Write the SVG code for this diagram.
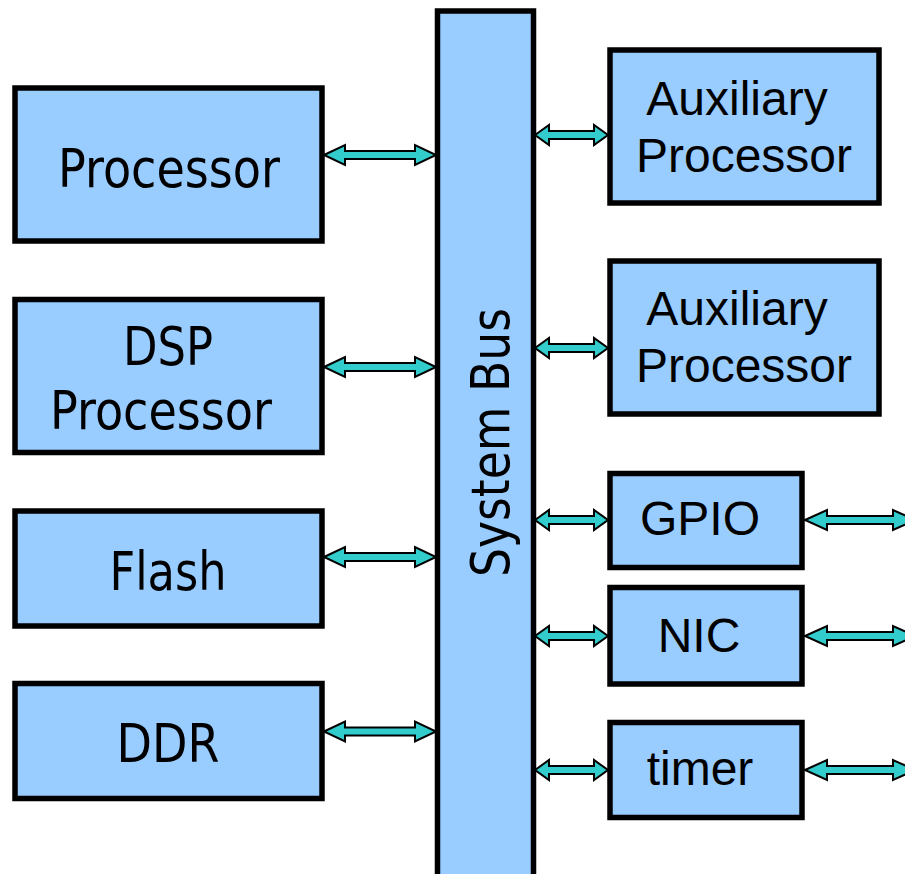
<svg xmlns="http://www.w3.org/2000/svg" width="905" height="874" viewBox="0 0 905 874">
<style>
.box{fill:#99CCFF;stroke:#000;stroke-width:5.5}
.arr{fill:#33CCCC;stroke:#000;stroke-width:2;stroke-linejoin:miter}
.lt{font-family:"DejaVu Sans","Liberation Sans",sans-serif;font-size:53px;fill:#000;text-anchor:middle}
.rt{font-family:"Liberation Sans",Arial,sans-serif;font-size:48px;fill:#000;text-anchor:middle}
</style>
<rect width="905" height="874" fill="#fff"/>
<g id="bus">
<rect class="box" x="437.5" y="11" width="96" height="880"/>
<text class="lt" transform="translate(509,442.5) rotate(-90)" textLength="269" lengthAdjust="spacingAndGlyphs">System Bus</text>
</g>
<g id="processor">
<rect class="box" x="15" y="88" width="307" height="153"/>
<text class="lt" x="169" y="187" textLength="222" lengthAdjust="spacingAndGlyphs">Processor</text>
</g>
<g id="dsp">
<rect class="box" x="15" y="299.5" width="307" height="153"/>
<text class="lt" x="168" y="365" textLength="90" lengthAdjust="spacingAndGlyphs">DSP</text>
<text class="lt" x="161" y="428.5" textLength="222" lengthAdjust="spacingAndGlyphs">Processor</text>
</g>
<g id="flash">
<rect class="box" x="15" y="511" width="307" height="115"/>
<text class="lt" x="168" y="589.5" textLength="117" lengthAdjust="spacingAndGlyphs">Flash</text>
</g>
<g id="ddr">
<rect class="box" x="15" y="683.5" width="307" height="115"/>
<text class="lt" x="168" y="762" textLength="103" lengthAdjust="spacingAndGlyphs">DDR</text>
</g>
<g id="aux1">
<rect class="box" x="610" y="50" width="269" height="153"/>
<text class="rt" x="737" y="115">Auxiliary</text>
<text class="rt" x="744" y="172">Processor</text>
</g>
<g id="aux2">
<rect class="box" x="610" y="261" width="269" height="153"/>
<text class="rt" x="737" y="325">Auxiliary</text>
<text class="rt" x="744" y="382">Processor</text>
</g>
<g id="gpio">
<rect class="box" x="610" y="473.5" width="192" height="94"/>
<text class="rt" x="700" y="535">GPIO</text>
</g>
<g id="nic">
<rect class="box" x="610" y="587.5" width="192" height="96.5"/>
<text class="rt" x="699" y="651.5">NIC</text>
</g>
<g id="timer">
<rect class="box" x="610" y="722.5" width="192" height="95"/>
<text class="rt" x="700" y="785">timer</text>
</g>
<g id="connectors">
<path class="arr" d="M324,155 L345,145 L345,151 L415,151 L415,145 L436,155 L415,165 L415,159 L345,159 L345,165 Z"/>
<path class="arr" d="M324,367 L345,357 L345,363 L415,363 L415,357 L436,367 L415,377 L415,371 L345,371 L345,377 Z"/>
<path class="arr" d="M324,557 L345,547 L345,553 L415,553 L415,547 L436,557 L415,567 L415,561 L345,561 L345,567 Z"/>
<path class="arr" d="M324,731.5 L345,721.5 L345,727.5 L415,727.5 L415,721.5 L436,731.5 L415,741.5 L415,735.5 L345,735.5 L345,741.5 Z"/>
<path class="arr" d="M535,135 L549,125 L549,131 L594,131 L594,125 L608,135 L594,145 L594,139 L549,139 L549,145 Z"/>
<path class="arr" d="M535,348 L549,338 L549,344 L594,344 L594,338 L608,348 L594,358 L594,352 L549,352 L549,358 Z"/>
<path class="arr" d="M535,520 L549,510 L549,516 L594,516 L594,510 L608,520 L594,530 L594,524 L549,524 L549,530 Z"/>
<path class="arr" d="M535,636 L549,626 L549,632 L594,632 L594,626 L608,636 L594,646 L594,640 L549,640 L549,646 Z"/>
<path class="arr" d="M535,770 L549,760 L549,766 L594,766 L594,760 L608,770 L594,780 L594,774 L549,774 L549,780 Z"/>
<path class="arr" d="M805,520 L827,510 L827,516 L893,516 L893,510 L915,520 L893,530 L893,524 L827,524 L827,530 Z"/>
<path class="arr" d="M805,636 L827,626 L827,632 L893,632 L893,626 L915,636 L893,646 L893,640 L827,640 L827,646 Z"/>
<path class="arr" d="M805,770 L827,760 L827,766 L893,766 L893,760 L915,770 L893,780 L893,774 L827,774 L827,780 Z"/>
</g>
</svg>
